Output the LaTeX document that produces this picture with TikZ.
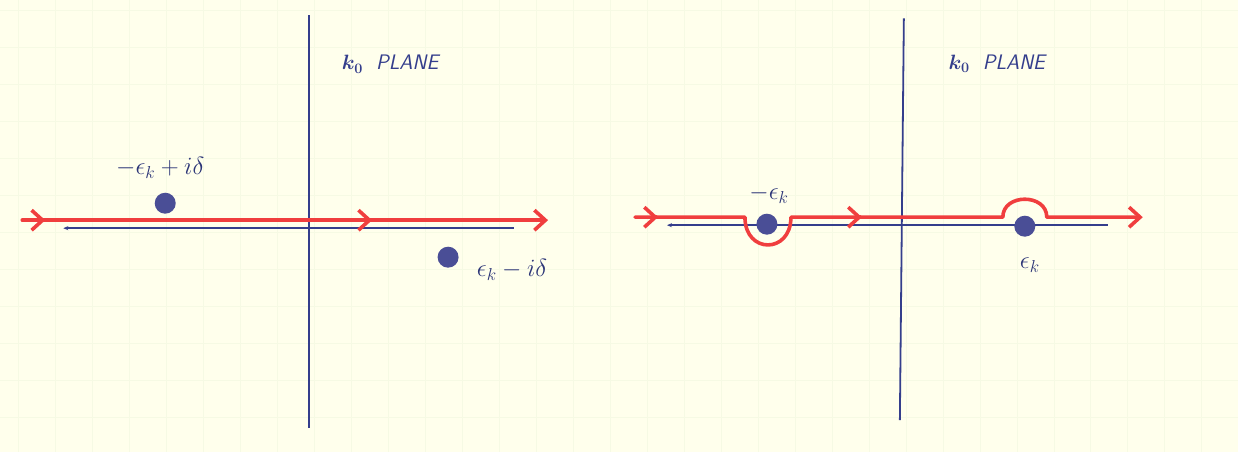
\documentclass[tikz,border=0pt]{standalone}
\usepackage{amsmath}
\usepackage{amssymb}
\usepackage{xcolor}
\usepackage{tikz}
\usetikzlibrary{arrows.meta,positioning}
\definecolor{paper}{RGB}{255,255,236}
\definecolor{gridline}{RGB}{246,250,228}
\definecolor{axisblue}{RGB}{52,62,140}
\definecolor{poleblue}{RGB}{74,78,150}
\definecolor{contour}{RGB}{240,62,62}
\newcommand{\ctip}[1]{\draw[cont,-{Straight Barb[length=11pt,width=20pt]}] ([xshift=-2pt]#1) -- (#1);}
\tikzset{
  axis/.style={draw=axisblue,line width=1.8pt},
  realax/.style={draw=axisblue,line width=1.5pt},
  pole/.style={circle,fill=poleblue,minimum size=21pt,inner sep=0pt},
  polelbl/.style={text=axisblue!85!black,font=\fontsize{25}{28}\selectfont,inner sep=1pt},
  planelbl/.style={text=axisblue,font=\fontsize{21}{24}\selectfont\sffamily\itshape,inner sep=1pt},
  cont/.style={draw=contour,line width=3.6pt,line cap=round,line join=round},
}

\begin{document}
\begin{tikzpicture}[x=1pt,y=-1pt]
  % papier
  \fill[paper] (0,0) rectangle (1238,452);
  \foreach \gx in {18,55,...,1238} \draw[gridline,line width=0.6pt] (\gx,0) -- (\gx,452);
  \foreach \gy in {10,47,...,452} \draw[gridline,line width=0.6pt] (0,\gy) -- (1238,\gy);
  \useasboundingbox (0,0) rectangle (1238,452);

  % --- stanga: polii deplasati de i delta ---
  \coordinate (lt) at (309,15);
  \coordinate (lb) at (309,428);
  \coordinate (lw) at (63,228);
  \coordinate (le) at (514,228);
  \draw[axis] (lt) -- (lb);
  \draw[realax,{Stealth[length=5pt,width=4pt]}-] (lw) -- (le);
  \node[planelbl] (lplane) at (390,64) {$\boldsymbol{k_0}$\ \ PLANE};

  \node[pole] (lpa) at (165,203) {};
  \node[pole] (lpb) at (448,257) {};
  \node[polelbl] (lla) at (160,168) {$-\epsilon_k+i\delta$};
  \node[polelbl] (llb) at (512,270) {$\epsilon_k-i\delta$};

  \coordinate (lcs) at (22,220);
  \coordinate (lce) at (548,220);
  \draw[cont,-{Straight Barb[length=11pt,width=20pt]}] (lcs) -- (lce);
  \ctip{45,220}
  \ctip{372,220}

  % --- dreapta: conturul ocoleste polii reali ---
  \coordinate (rt) at (904,18);
  \coordinate (rb) at (900,420);
  \coordinate (rw) at (667,225);
  \coordinate (re) at (1108,225);
  \draw[axis] (rt) -- (rb);
  \draw[realax,{Stealth[length=5pt,width=4pt]}-] (rw) -- (re);
  \node[planelbl] (rplane) at (997,63) {$\boldsymbol{k_0}$\ \ PLANE};

  \node[pole] (rpa) at (767,224) {};
  \node[pole] (rpb) at (1025,226) {};
  \node[polelbl] (rla) at (769,194) {$-\epsilon_k$};
  \node[polelbl] (rlb) at (1030,265) {$\epsilon_k$};

  \coordinate (rcs) at (635,217);
  \coordinate (rce) at (1143,217);
  \draw[cont,-{Straight Barb[length=11pt,width=20pt]}] (rcs) -- (745,217)
    .. controls (745,254) and (791,254) .. (791,217) -- (1003,217)
    .. controls (1003,193) and (1047,193) .. (1047,217) -- (rce);
  \ctip{658,217}
  \ctip{862,217}
\end{tikzpicture}
\end{document}
